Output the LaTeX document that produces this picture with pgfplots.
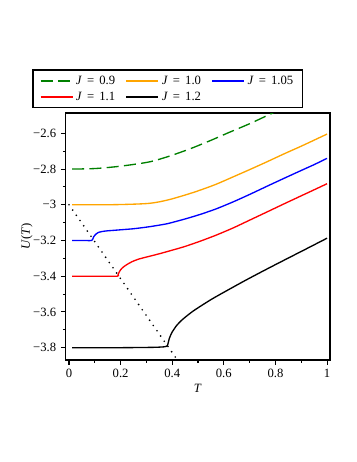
\documentclass[border=0pt]{standalone}
\usepackage{fontspec}
\setmainfont{Liberation Serif}
\usepackage{pgfplots}
\pgfplotsset{compat=1.18}
\definecolor{mgreen}{RGB}{0,128,0}
\definecolor{morange}{RGB}{255,165,0}
\newcommand{\fs}{\fontsize{9.5}{11.4}\selectfont}
\newcommand{\J}[1]{\textit{J}\hspace{0.4em}=\hspace{0.4em}#1}
\begin{document}
\begin{tikzpicture}
\useasboundingbox (-49.125pt,-76.5pt) rectangle (218.625pt,270pt);
\begin{axis}[
  scale only axis,
  width=198.4pt, height=185.25pt,
  xmin=-0.0136, xmax=1.0116,
  ymin=-3.869, ymax=-2.486,
  axis line style={line width=1pt},
  tick pos=left,
  tick align=outside,
  major tick length=3.5pt,
  minor tick length=2pt,
  every tick/.style={black, line width=0.8pt},
  xtick={0,0.2,0.4,0.6,0.8,1},
  xticklabels={0,0.2,0.4,0.6,0.8,1},
  ytick={-3.8,-3.6,-3.4,-3.2,-3,-2.8,-2.6},
  yticklabels={−3.8,−3.6,−3.4,−3.2,−3,−2.8,−2.6},
  minor x tick num=1,
  minor y tick num=1,
  /pgf/number format/assume math mode=true,
  tick label style={font=\fs},
  label style={font=\fs},
  xlabel={\textit{T}},
  ylabel={\textit{U}(\textit{T})},
  xlabel style={yshift=2pt},
  ylabel shift=-6.5pt,
  legend columns=3,
  legend cell align=left,
  legend style={name=leg, at={(-0.1229,1.174)}, anchor=north west, draw=none, fill=white,
    font=\fs, inner xsep=5pt, inner ysep=2pt, row sep=0.2pt,
    /tikz/every even column/.append style={column sep=6pt}},
  legend image code/.code={\draw[line width=1pt, #1, line width=1pt] (0pt,0pt) -- (24pt,0pt);},
]
% dotted boundary line
\addplot[black, line width=1.4pt, dash pattern=on 0pt off 4.8pt, line cap=round, forget plot]
  coordinates {(0,-3) (0.435,-3.9)};

\addplot[color=mgreen, line width=1pt, dash pattern=on 9pt off 4pt, smooth, tension=0.5] coordinates {
 (0.012,-2.800) (0.10,-2.797) (0.18,-2.787) (0.26,-2.772) (0.32,-2.757)
 (0.39,-2.727) (0.47,-2.686) (0.55,-2.639) (0.62,-2.595) (0.70,-2.546)
 (0.77,-2.499) (0.85,-2.445)};
\addlegendentry{\J{0.9}}

\addplot[color=morange, line width=1pt, smooth, tension=0.5] coordinates {
 (0.012,-3.000) (0.10,-3.000) (0.20,-2.9985) (0.31,-2.992) (0.38,-2.974)
 (0.453,-2.944) (0.508,-2.918) (0.57,-2.885) (0.637,-2.843) (0.70,-2.803)
 (0.766,-2.760) (0.83,-2.717) (0.895,-2.675) (0.95,-2.638) (1.00,-2.604)};
\addlegendentry{\J{1.0}}

\addplot[color=blue, line width=1pt, smooth, tension=0.4] coordinates {
 (0.012,-3.200) (0.05,-3.200) (0.088,-3.200) (0.092,-3.192) (0.096,-3.178)
 (0.103,-3.166) (0.115,-3.154) (0.14,-3.147) (0.182,-3.142) (0.25,-3.134)
 (0.31,-3.123) (0.38,-3.106) (0.453,-3.078) (0.508,-3.054) (0.57,-3.023)
 (0.637,-2.983) (0.70,-2.942) (0.766,-2.897) (0.83,-2.854) (0.895,-2.811)
 (0.95,-2.775) (1.00,-2.740)};
\addlegendentry{\J{1.05}}

\addplot[color=red, line width=1pt, smooth, tension=0.4] coordinates {
 (0.012,-3.400) (0.10,-3.400) (0.186,-3.400) (0.190,-3.392) (0.194,-3.378)
 (0.201,-3.362) (0.211,-3.348) (0.225,-3.334) (0.245,-3.318) (0.27,-3.304)
 (0.31,-3.289) (0.353,-3.273) (0.40,-3.254) (0.45,-3.233) (0.508,-3.204)
 (0.57,-3.170) (0.637,-3.129) (0.70,-3.086) (0.766,-3.041) (0.83,-2.997)
 (0.895,-2.953) (0.95,-2.916) (1.00,-2.882)};
\addlegendentry{\J{1.1}}

\addplot[color=black, line width=1pt, smooth, tension=0.4] coordinates {
 (0.012,-3.800) (0.20,-3.800) (0.33,-3.798) (0.37,-3.795) (0.378,-3.792)
 (0.382,-3.786) (0.385,-3.770) (0.388,-3.752) (0.393,-3.733) (0.400,-3.712)
 (0.417,-3.676) (0.44,-3.642) (0.482,-3.594) (0.55,-3.531) (0.611,-3.481)
 (0.68,-3.426) (0.74,-3.380) (0.80,-3.335) (0.869,-3.284) (0.93,-3.239)
 (1.00,-3.187)};
\addlegendentry{\J{1.2}}
\end{axis}
\draw[black, line width=0.9pt] (leg.south west) rectangle (leg.north east);
\end{tikzpicture}
\end{document}
